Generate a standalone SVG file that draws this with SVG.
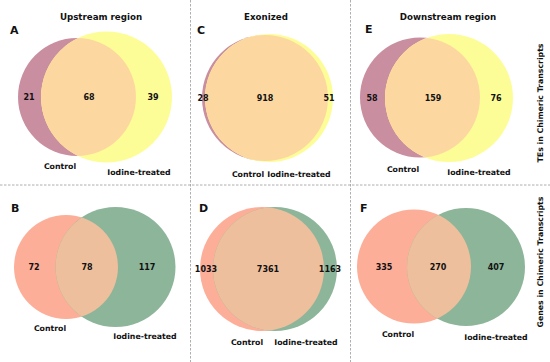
<svg xmlns="http://www.w3.org/2000/svg" width="550" height="362" viewBox="0 0 550 362">
<style>
text{font-family:"DejaVu Sans",sans-serif;font-weight:bold;fill:#111;text-anchor:middle}
.t{font-size:8.7px}
.n{font-size:8px;dominant-baseline:central}
.l{font-size:7.8px}
.p{font-size:11px;text-anchor:start}
.r{font-size:7.8px}
.ctA{fill:#c98ea0}.itA{fill:#fdfd98}.ovA{fill:#fcd8a0}
.ctB{fill:#fcae98}.itB{fill:#8db59a}.ovB{fill:#eebf9c}
.sep{stroke:#9a9a9a;stroke-width:0.8;stroke-dasharray:2.5,1.5;fill:none}
</style>
<defs>
<clipPath id="cA"><circle cx="77" cy="97" r="59"/></clipPath>
<clipPath id="cC"><circle cx="265" cy="98" r="63"/></clipPath>
<clipPath id="cE"><circle cx="420" cy="97.5" r="60"/></clipPath>
<clipPath id="cB"><circle cx="66" cy="267" r="52"/></clipPath>
<clipPath id="cD"><circle cx="262" cy="269" r="62"/></clipPath>
<clipPath id="cF"><circle cx="414" cy="266.5" r="57"/></clipPath>
</defs>
<g id="separators">
<line class="sep" x1="190.5" y1="0" x2="190.5" y2="362"/>
<line class="sep" x1="350.5" y1="0" x2="350.5" y2="362"/>
<line class="sep" x1="0" y1="185" x2="550" y2="185"/>
</g>
<g id="panelA">
<text class="t" x="101" y="20">Upstream region</text>
<text class="p" x="10" y="34">A</text>
<circle class="ctA" cx="77" cy="97" r="59"/>
<circle class="itA" cx="106.5" cy="97" r="65.5"/>
<circle class="ovA" cx="106.5" cy="97" r="65.5" clip-path="url(#cA)"/>
<text class="n" x="29" y="97">21</text>
<text class="n" x="89" y="97">68</text>
<text class="n" x="153" y="97">39</text>
<text class="l" x="60" y="169">Control</text>
<text class="l" x="139" y="175">Iodine-treated</text>
</g>
<g id="panelC">
<text class="t" x="266" y="20">Exonized</text>
<text class="p" x="197" y="34">C</text>
<circle class="ctA" cx="265" cy="98" r="63"/>
<circle class="itA" cx="269" cy="98" r="64"/>
<circle class="ovA" cx="269" cy="98" r="64" clip-path="url(#cC)"/>
<text class="n" x="203" y="98">28</text>
<text class="n" x="265" y="98">918</text>
<text class="n" x="329" y="98">51</text>
<text class="l" x="248" y="177">Control</text>
<text class="l" x="299" y="177">Iodine-treated</text>
</g>
<g id="panelE">
<text class="t" x="448" y="20">Downstream region</text>
<text class="p" x="365" y="33">E</text>
<circle class="ctA" cx="420" cy="97.5" r="60"/>
<circle class="itA" cx="449" cy="98" r="64"/>
<circle class="ovA" cx="449" cy="98" r="64" clip-path="url(#cE)"/>
<text class="n" x="372" y="98">58</text>
<text class="n" x="433" y="98">159</text>
<text class="n" x="496" y="98">76</text>
<text class="l" x="403" y="172">Control</text>
<text class="l" x="479" y="175">Iodine-treated</text>
<text class="r" transform="translate(543,103) rotate(-90)">TEs in Chimeric Transcripts</text>
</g>
<g id="panelB">
<text class="p" x="11" y="212">B</text>
<circle class="ctB" cx="66" cy="267" r="52"/>
<circle class="itB" cx="115.5" cy="267" r="60"/>
<circle class="ovB" cx="115.5" cy="267" r="60" clip-path="url(#cB)"/>
<text class="n" x="34" y="267">72</text>
<text class="n" x="87" y="267">78</text>
<text class="n" x="147" y="267">117</text>
<text class="l" x="50" y="331">Control</text>
<text class="l" x="145" y="339">Iodine-treated</text>
</g>
<g id="panelD">
<text class="p" x="199" y="212">D</text>
<circle class="ctB" cx="262" cy="269" r="62"/>
<circle class="itB" cx="275" cy="269" r="62"/>
<circle class="ovB" cx="275" cy="269" r="62" clip-path="url(#cD)"/>
<text class="n" x="206" y="269">1033</text>
<text class="n" x="268" y="269">7361</text>
<text class="n" x="330" y="269">1163</text>
<text class="l" x="247" y="345">Control</text>
<text class="l" x="306" y="345">Iodine-treated</text>
</g>
<g id="panelF">
<text class="p" x="360" y="212">F</text>
<circle class="ctB" cx="414" cy="266.5" r="57"/>
<circle class="itB" cx="466" cy="267" r="59"/>
<circle class="ovB" cx="466" cy="267" r="59" clip-path="url(#cF)"/>
<text class="n" x="384" y="267">335</text>
<text class="n" x="438" y="267">270</text>
<text class="n" x="496" y="267">407</text>
<text class="l" x="398" y="337">Control</text>
<text class="l" x="496" y="340">Iodine-treated</text>
<text class="r" transform="translate(543,262) rotate(-90)">Genes in Chimeric Transcripts</text>
</g>
</svg>
